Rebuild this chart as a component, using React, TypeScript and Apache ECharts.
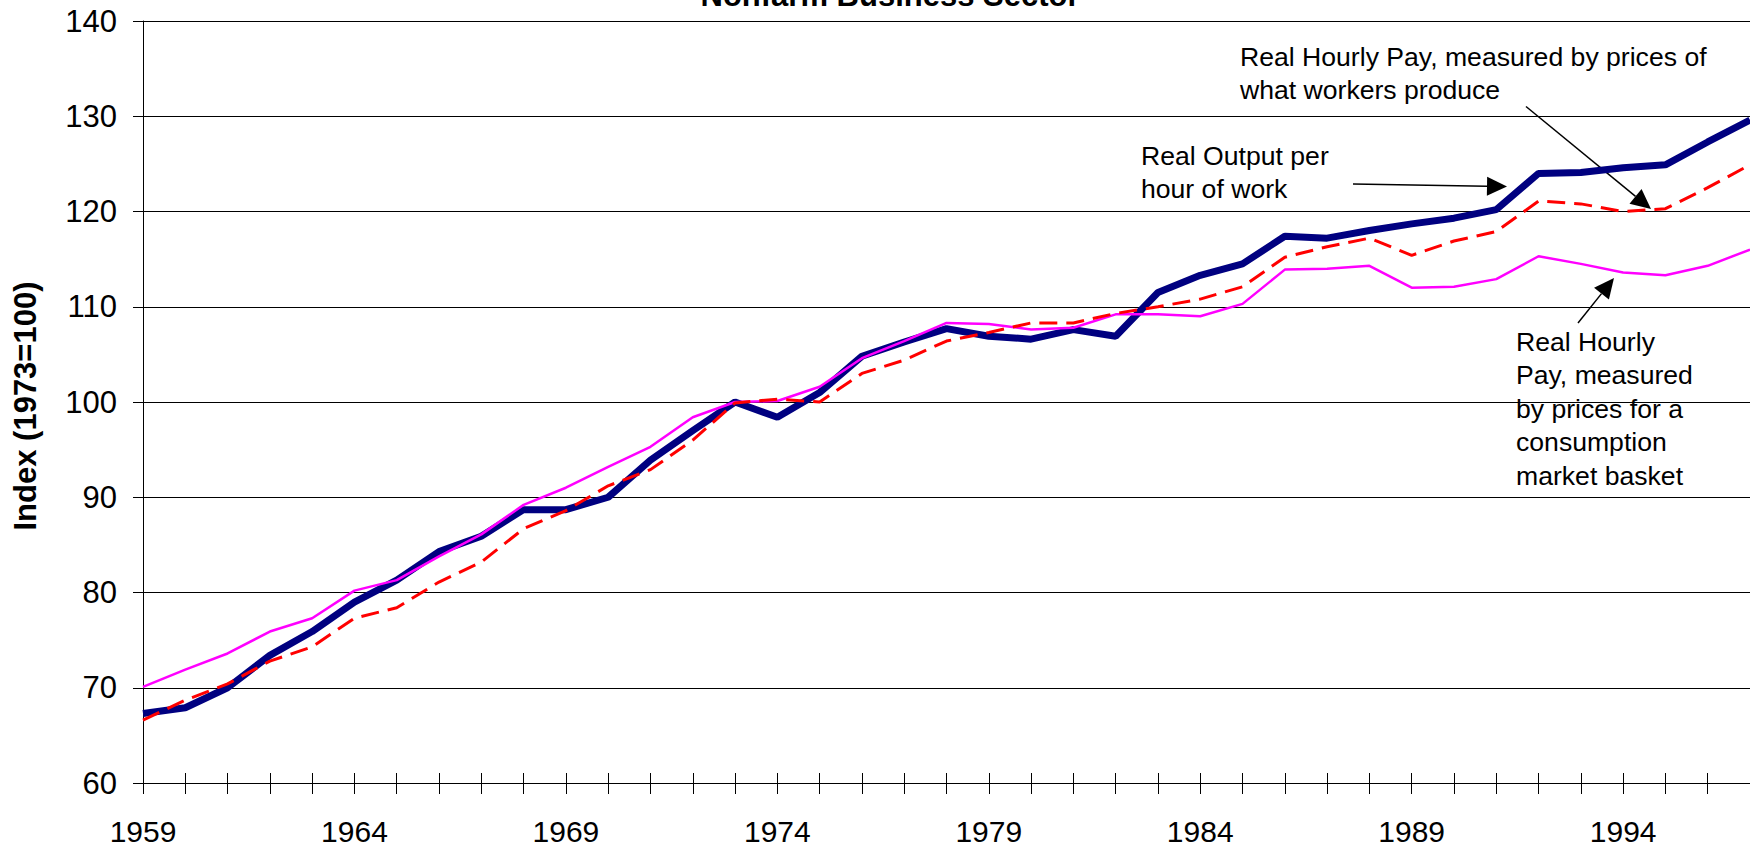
import React, { useEffect, useRef } from "react";
import * as echarts from "echarts";

const years = [
  "1959", "1960", "1961", "1962", "1963", "1964", "1965", "1966", "1967", "1968",
  "1969", "1970", "1971", "1972", "1973", "1974", "1975", "1976", "1977", "1978",
  "1979", "1980", "1981", "1982", "1983", "1984", "1985", "1986", "1987", "1988",
  "1989", "1990", "1991", "1992", "1993", "1994", "1995", "1996", "1997",
];

// Real output per hour of work
const outputPerHour = [
  67.3, 67.9, 70.0, 73.4, 75.9, 79.0, 81.3, 84.3, 85.9, 88.7,
  88.7, 90.0, 93.9, 97.0, 100.0, 98.4, 101.0, 104.8, 106.3, 107.7,
  106.9, 106.6, 107.6, 106.9, 111.5, 113.3, 114.5, 117.4, 117.2, 118.0,
  118.7, 119.3, 120.2, 124.0, 124.1, 124.6, 124.9, 127.3, 129.6,
];

// Real hourly pay, measured by prices of what workers produce
const payProducePrices = [
  66.6, 68.7, 70.4, 72.8, 74.3, 77.3, 78.4, 81.1, 83.2, 86.7,
  88.6, 91.2, 92.9, 96.0, 99.9, 100.3, 100.0, 103.0, 104.4, 106.4,
  107.3, 108.3, 108.3, 109.3, 110.0, 110.8, 112.1, 115.2, 116.3, 117.2,
  115.4, 116.9, 117.9, 121.1, 120.8, 120.0, 120.3, 122.5, 124.9,
];

// Real hourly pay, measured by prices for a consumption market basket
const payConsumptionPrices = [
  70.1, 71.9, 73.6, 75.9, 77.3, 80.2, 81.3, 83.8, 86.1, 89.2,
  91.0, 93.2, 95.3, 98.4, 100.0, 100.1, 101.6, 104.6, 106.4, 108.3,
  108.2, 107.6, 107.8, 109.2, 109.2, 109.0, 110.3, 113.9, 114.0, 114.3,
  112.0, 112.1, 112.9, 115.3, 114.5, 113.6, 113.3, 114.3, 116.0,
];

const yMin = 60;
const yMax = 140;
const yStep = 10;

const titleText = "Nonfarm Business Sector";
const yAxisTitle = "Index (1973=100)";
const noteProduce = "Real Hourly Pay, measured by prices of\nwhat workers produce";
const noteOutput = "Real Output per\nhour of work";
const noteConsumption = "Real Hourly\nPay, measured\nby prices for a\nconsumption\nmarket basket";

const FONT = '"Liberation Sans", Arial, Helvetica, sans-serif';

function arrow(x1: number, y1: number, x2: number, y2: number, head = 20, hw = 9.5) {
  const dx = x2 - x1;
  const dy = y2 - y1;
  const len = Math.sqrt(dx * dx + dy * dy);
  const ux = dx / len;
  const uy = dy / len;
  const bx = x2 - ux * head;
  const by = y2 - uy * head;
  const px = -uy * hw;
  const py = ux * hw;
  return {
    type: "group",
    silent: true,
    children: [
      {
        type: "line",
        shape: { x1, y1, x2: bx, y2: by },
        style: { stroke: "#000", lineWidth: 1.5 },
      },
      {
        type: "polygon",
        shape: {
          points: [
            [x2, y2],
            [bx + px, by + py],
            [bx - px, by - py],
          ],
        },
        style: { fill: "#000" },
      },
    ],
  };
}

export default function App() {
  const ref = useRef<HTMLDivElement>(null);

  useEffect(() => {
    if (!ref.current) return;
    const chart = echarts.init(ref.current, null, { renderer: "svg" });
    const option: any = {
      animation: false,
      backgroundColor: "#ffffff",
      textStyle: { fontFamily: FONT },
      grid: { left: 143, right: -2, top: 21, bottom: 63, containLabel: false },
      xAxis: [
        {
          type: "category",
          data: years,
          boundaryGap: false,
          position: "bottom",
          axisLine: { show: true, onZero: false, lineStyle: { color: "#000", width: 1 } },
          axisTick: { show: true, interval: 0, length: 11, lineStyle: { color: "#000", width: 1 } },
          axisLabel: {
            interval: 4,
            margin: 33,
            color: "#000",
            fontSize: 30,
            fontFamily: FONT,
          },
          splitLine: { show: false },
        },
        {
          type: "category",
          data: years,
          boundaryGap: false,
          position: "bottom",
          axisLine: { show: false, onZero: false },
          axisTick: { show: true, inside: true, interval: 0, length: 10, lineStyle: { color: "#000", width: 1 } },
          axisLabel: { show: false },
          splitLine: { show: false },
        },
      ],
      yAxis: {
        type: "value",
        min: yMin,
        max: yMax,
        interval: yStep,
        axisLine: { show: true, lineStyle: { color: "#000", width: 1 } },
        axisTick: { show: true, length: 10, lineStyle: { color: "#000", width: 1 } },
        axisLabel: { margin: 26, color: "#000", fontSize: 31, fontFamily: FONT },
        splitLine: { show: true, lineStyle: { color: "#000", width: 1 } },
      },
      series: [
        {
          name: "Real Output per hour of work",
          type: "line",
          data: outputPerHour,
          showSymbol: false,
          symbol: "none",
          lineStyle: { color: "#000080", width: 7 },
          z: 2,
        },
        {
          name: "Real Hourly Pay, consumption prices",
          type: "line",
          data: payConsumptionPrices,
          showSymbol: false,
          symbol: "none",
          lineStyle: { color: "#FF00FF", width: 2.5 },
          z: 3,
        },
        {
          name: "Real Hourly Pay, producer prices",
          type: "line",
          data: payProducePrices,
          showSymbol: false,
          symbol: "none",
          lineStyle: { color: "#FF0000", width: 3, type: [18, 9] },
          z: 4,
        },
      ],
      graphic: [
        {
          type: "text",
          x: 890,
          y: -5,
          silent: true,
          style: {
            text: titleText,
            font: `bold 31px ${FONT}`,
            fill: "#000",
            align: "center",
            verticalAlign: "middle",
          },
        },
        {
          type: "text",
          x: 25,
          y: 406,
          rotation: Math.PI / 2,
          silent: true,
          style: {
            text: yAxisTitle,
            font: `bold 31px ${FONT}`,
            fill: "#000",
            align: "center",
            verticalAlign: "middle",
          },
        },
        {
          type: "text",
          x: 1240,
          y: 40,
          silent: true,
          style: {
            text: noteProduce,
            font: `26.6px ${FONT}`,
            lineHeight: 33.5,
            fill: "#000",
            align: "left",
            verticalAlign: "top",
          },
        },
        {
          type: "text",
          x: 1141,
          y: 139,
          silent: true,
          style: {
            text: noteOutput,
            font: `26.6px ${FONT}`,
            lineHeight: 33.5,
            fill: "#000",
            align: "left",
            verticalAlign: "top",
          },
        },
        {
          type: "text",
          x: 1516,
          y: 325,
          silent: true,
          style: {
            text: noteConsumption,
            font: `26.6px ${FONT}`,
            lineHeight: 33.5,
            fill: "#000",
            align: "left",
            verticalAlign: "top",
          },
        },
        arrow(1353, 184, 1507, 186.5),
        arrow(1526, 106.5, 1651, 209),
        arrow(1578, 323, 1614, 278),
      ],
    };
    chart.setOption(option);
    return () => chart.dispose();
  }, []);

  return (
    <div
      ref={ref}
      style={{ position: "fixed", left: 0, top: 0, width: 1750, height: 846, background: "#fff" }}
    />
  );
}
